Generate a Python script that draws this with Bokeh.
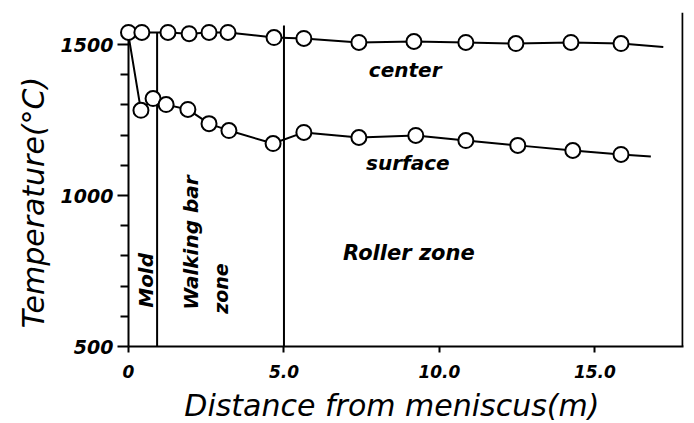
from bokeh.plotting import figure
from bokeh.models import Range1d, FixedTicker, Label
from bokeh.core.properties import value
from bokeh.embed import file_html
from bokeh.resources import INLINE
import math

# ---- data ----
center_x = [0, 0.43, 1.27, 1.95, 2.59, 3.2, 4.68, 5.64, 7.41, 9.18, 10.85, 12.46, 14.23, 15.84]
center_y = [1540, 1540, 1540, 1536, 1540, 1540, 1523, 1520, 1507, 1510, 1507, 1503, 1507, 1503]
center_line_start = [0, 1540]
center_line_end = [17.2, 1492]

surface_x = [0.4, 0.79, 1.21, 1.91, 2.59, 3.23, 4.65, 5.64, 7.41, 9.24, 10.85, 12.52, 14.29, 15.84]
surface_y = [1282, 1321, 1301, 1285, 1238, 1215, 1172, 1209, 1192, 1199, 1182, 1166, 1149, 1136]
surface_line_start = [0, 1530]
surface_line_end = [16.8, 1129]

zone_x = [0.92, 5.0]
zone_top = [1540, 1563]

x_ticks = [0, 5, 10, 15]
x_tick_labels = ["0", "5.0", "10.0", "15.0"]
y_ticks = [500, 1000, 1500]
y_minor = [600, 700, 800, 900, 1100, 1200, 1300, 1400]

x_title = "Distance from meniscus(m)"
y_title = "Temperature(°C)"

X_END = 17.85
Y_END = 1606
FONT = "DejaVu Sans"

p = figure(width=694, height=423, output_backend="svg", toolbar_location=None,
           x_range=Range1d(0, X_END), y_range=Range1d(500, Y_END),
           min_border_left=128, min_border_right=11, min_border_top=12, min_border_bottom=77)
p.outline_line_color = None
p.grid.grid_line_color = None
p.background_fill_color = "white"

# axes
p.xaxis.ticker = FixedTicker(ticks=x_ticks)
p.xaxis.major_label_overrides = {t: l for t, l in zip(x_ticks, x_tick_labels)}
p.xaxis.major_tick_out = 6
p.xaxis.major_tick_in = 0
p.xaxis.minor_tick_line_color = None
p.xaxis.axis_line_width = 2
p.xaxis.major_tick_line_width = 2
p.xaxis.major_label_standoff = 12
p.xaxis.major_label_text_font = FONT
p.xaxis.major_label_text_font_style = "bold italic"
p.xaxis.major_label_text_font_size = "17px"
p.xaxis.major_label_text_color = "black"

p.yaxis.ticker = FixedTicker(ticks=y_ticks, minor_ticks=y_minor)
p.yaxis.bounds = (500, 1540)
p.yaxis.major_tick_out = 11
p.yaxis.major_tick_in = 0
p.yaxis.minor_tick_out = 8
p.yaxis.minor_tick_in = 0
p.yaxis.axis_line_width = 2
p.yaxis.major_tick_line_width = 2
p.yaxis.minor_tick_line_width = 2
p.yaxis.major_label_standoff = 4
p.yaxis.major_label_text_font = FONT
p.yaxis.major_label_text_font_style = "bold italic"
p.yaxis.major_label_text_font_size = "19px"
p.yaxis.major_label_text_color = "black"

# zone boundaries and right border
p.segment(x0=zone_x, y0=[500] * len(zone_x), x1=zone_x, y1=zone_top, line_color="black", line_width=2)
p.segment(x0=[X_END - 0.03], y0=[500], x1=[X_END - 0.03], y1=[Y_END], line_color="black", line_width=2)

# lines
p.line([center_line_start[0]] + center_x + [center_line_end[0]],
       [center_line_start[1]] + center_y + [center_line_end[1]], line_color="black", line_width=2)
p.line([surface_line_start[0]] + surface_x + [surface_line_end[0]],
       [surface_line_start[1]] + surface_y + [surface_line_end[1]], line_color="black", line_width=2)

# markers
r1 = p.scatter(center_x, center_y, size=15, fill_color="white", line_color="black", line_width=2)
r2 = p.scatter(surface_x, surface_y, size=15, fill_color="white", line_color="black", line_width=2)
r1.level = "overlay"
r2.level = "overlay"

def lab(x, y, text, size, style="bold italic", angle=0.0, align="left"):
    p.add_layout(Label(x=x, y=y, text=text, text_font=FONT, text_font_style=style,
                       text_font_size=size, angle=angle, text_align=align,
                       text_baseline="middle", text_color="black", level="overlay"))

lab(7.73, 1414, "center", "20px")
lab(7.64, 1106, "surface", "20px")
lab(6.9, 808, "Roller zone", "21px")
lab(0.56, 719, "Mold", "20px", angle=math.pi / 2, align="center")
lab(2.01, 844, "Walking bar", "20px", angle=math.pi / 2, align="center")
lab(2.97, 692, "zone", "19px", angle=math.pi / 2, align="center")

# axis titles (drawn as overlay text glyphs so they may sit outside the frame)
t1 = p.text(x=[8.47], y=[305], text=[x_title], text_font=value(FONT), text_font_style="italic",
            text_font_size="30px", text_align="center", text_baseline="middle", text_color="black")
t2 = p.text(x=[-3.04], y=[977], text=[y_title], text_font=value(FONT), text_font_style="italic",
            text_font_size="30px", text_align="center", text_baseline="middle", text_color="black",
            angle=math.pi / 2)
t1.level = "overlay"
t2.level = "overlay"

open("out.html", "w").write(file_html(p, INLINE))
